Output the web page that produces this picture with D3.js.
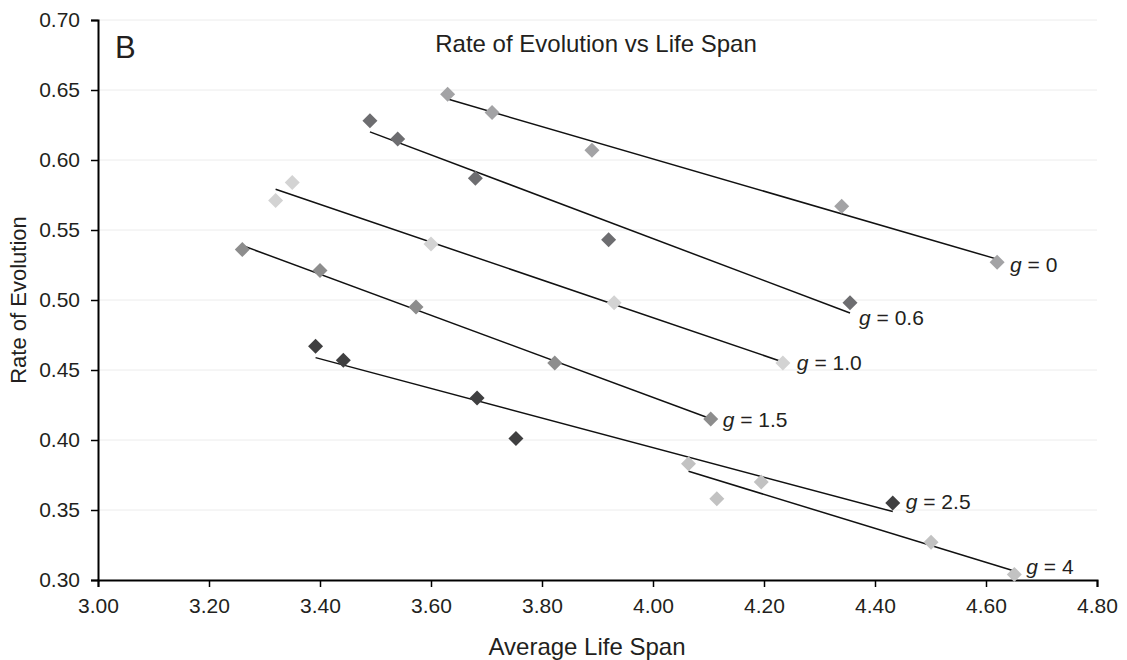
<!DOCTYPE html>
<html>
<head>
<meta charset="utf-8">
<script src="https://cdn.jsdelivr.net/npm/d3@7"></script>
<style>
  body { margin: 0; background: #fff; }
  text { font-family: "Liberation Sans", Arial, sans-serif; fill: #231f20; }
</style>
</head>
<body>
<div id="chart"></div>
<script>
// series names and values
var groups = ["0", "0.6", "1.0", "1.5", "2.5", "4"];
var lifeSpan = [
  [3.63, 3.71, 3.89, 4.34, 4.62],
  [3.49, 3.54, 3.68, 3.92, 4.355],
  [3.32, 3.35, 3.60, 3.93, 4.234],
  [3.26, 3.40, 3.573, 3.823, 4.104],
  [3.392, 3.442, 3.683, 3.753, 4.432],
  [4.064, 4.115, 4.195, 4.501, 4.651]
];
var rate = [
  [0.647, 0.634, 0.607, 0.567, 0.527],
  [0.628, 0.615, 0.587, 0.543, 0.498],
  [0.571, 0.584, 0.540, 0.498, 0.455],
  [0.536, 0.521, 0.495, 0.455, 0.415],
  [0.467, 0.457, 0.430, 0.401, 0.355],
  [0.383, 0.358, 0.370, 0.327, 0.304]
];
var xTicks = [3.0, 3.2, 3.4, 3.6, 3.8, 4.0, 4.2, 4.4, 4.6, 4.8];
var yTicks = [0.30, 0.35, 0.40, 0.45, 0.50, 0.55, 0.60, 0.65, 0.70];

// styling (not data)
var colors = ["#a3a3a5", "#6d6d70", "#d3d3d3", "#8d8d8d", "#3f3f40", "#c2c2c2"];
var labelDx = [13, 9, 14, 12, 13, 12];
var labelDy = [10, 22, 7, 8, 6, 0];

var margin = { top: 20, right: 30, bottom: 80, left: 98 },
    width = 1097 - margin.left,
    height = 580 - margin.top;

var svg = d3.select("#chart").append("svg")
  .attr("width", 1127)
  .attr("height", 660);

var g = svg.append("g")
  .attr("transform", "translate(" + margin.left + "," + margin.top + ")");

var x = d3.scaleLinear().domain([3.0, 4.8]).range([0, width]);
var y = d3.scaleLinear().domain([0.30, 0.70]).range([height, 0]);

// gridlines
g.selectAll(".grid")
  .data(yTicks.slice(1))
  .enter()
  .append("line")
  .attr("x1", 0)
  .attr("x2", width)
  .attr("y1", function(d) { return y(d); })
  .attr("y2", function(d) { return y(d); })
  .attr("stroke", "#ececec")
  .attr("stroke-width", 1);

// axes
var xAxis = d3.axisBottom(x).tickValues(xTicks).tickSizeOuter(0).tickSize(7).tickPadding(11)
  .tickFormat(d3.format(".2f"));
var yAxis = d3.axisLeft(y).tickValues(yTicks).tickSizeOuter(0).tickSize(7).tickPadding(11)
  .tickFormat(d3.format(".2f"));

var gx = g.append("g")
  .attr("transform", "translate(0," + height + ")")
  .call(xAxis);
var gy = g.append("g").call(yAxis);

[gx, gy].forEach(function(ax) {
  ax.select(".domain").attr("stroke", "#000").attr("stroke-width", 2);
  ax.selectAll(".tick line").attr("stroke", "#000").attr("stroke-width", 1.5);
  ax.selectAll(".tick text")
    .attr("fill", "#231f20")
    .style("font-size", "21px")
    .style("font-family", "Liberation Sans, Arial, sans-serif");
});

// trendlines (least squares fit of each series, like the spreadsheet trendline)
groups.forEach(function(name, i) {
  var xs = lifeSpan[i], ys = rate[i];
  var mx = d3.mean(xs), my = d3.mean(ys);
  var sxy = d3.sum(xs, function(v, k) { return (v - mx) * (ys[k] - my); });
  var sxx = d3.sum(xs, function(v) { return (v - mx) * (v - mx); });
  var slope = sxy / sxx;
  var x0 = d3.min(xs), x1 = d3.max(xs);
  g.append("line")
    .attr("x1", x(x0))
    .attr("y1", y(my + slope * (x0 - mx)))
    .attr("x2", x(x1))
    .attr("y2", y(my + slope * (x1 - mx)))
    .attr("stroke", "#111")
    .attr("stroke-width", 1.5);
});

// markers
var diamond = "M0,-7.5L7.5,0L0,7.5L-7.5,0Z";
groups.forEach(function(name, i) {
  g.selectAll(".pt" + i)
    .data(d3.range(lifeSpan[i].length))
    .enter()
    .append("path")
    .attr("d", diamond)
    .attr("transform", function(k) {
      return "translate(" + x(lifeSpan[i][k]) + "," + y(rate[i][k]) + ")";
    })
    .attr("fill", colors[i]);
});

// series labels next to the last point
groups.forEach(function(name, i) {
  var n = lifeSpan[i].length - 1;
  var t = g.append("text")
    .attr("x", x(lifeSpan[i][n]) + labelDx[i])
    .attr("y", y(rate[i][n]) + labelDy[i])
    .style("font-size", "21px");
  t.append("tspan").style("font-style", "italic").text("g");
  t.append("tspan").text(" = " + name);
});

// title, panel letter, axis labels
svg.append("text")
  .attr("x", 596)
  .attr("y", 52)
  .attr("text-anchor", "middle")
  .style("font-size", "24px")
  .text("Rate of Evolution vs Life Span");

svg.append("text")
  .attr("x", 115)
  .attr("y", 58)
  .style("font-size", "31px")
  .text("B");

svg.append("text")
  .attr("x", 587)
  .attr("y", 655)
  .attr("text-anchor", "middle")
  .style("font-size", "24px")
  .text("Average Life Span");

svg.append("text")
  .attr("transform", "translate(26," + (margin.top + height / 2) + ") rotate(-90)")
  .attr("text-anchor", "middle")
  .style("font-size", "22px")
  .text("Rate of Evolution");
</script>
</body>
</html>
